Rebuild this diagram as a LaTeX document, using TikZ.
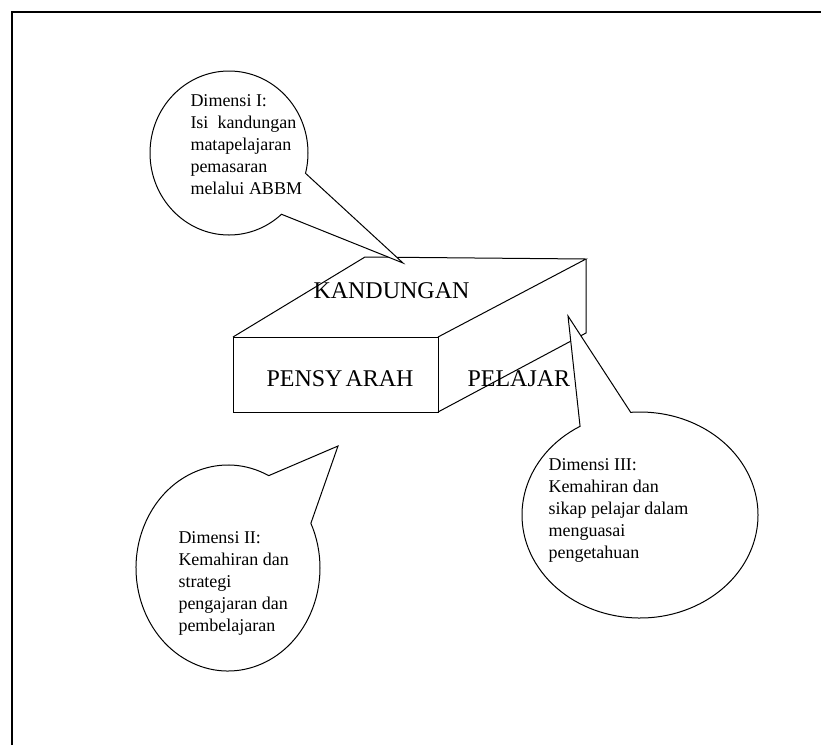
\documentclass[tikz,border=0pt]{standalone}
\usepackage{fontspec}
\setmainfont{Liberation Serif}
\usetikzlibrary{shapes.callouts,shapes.geometric}

\begin{document}
\begin{tikzpicture}[x=1pt,y=-1pt,line width=1pt,
  bubble/.style={ellipse callout, draw, fill=white, inner sep=0pt},
  dimtext/.style={anchor=north west, align=left, inner sep=0pt,
    font=\fontsize{18}{22}\selectfont},
  facetext/.style={anchor=base west, inner sep=0pt,
    font=\fontsize{24}{28}\selectfont}]
\useasboundingbox (0,0) rectangle (821,745);
% frame
\draw[line width=1.5pt] (12,745) -- (12,12) -- (821,12);
% box
\coordinate (fl) at (233,337);
\coordinate (fr) at (438,337);
\coordinate (frb) at (438,412);
\coordinate (flb) at (233,412);
\coordinate (bl) at (365,257);
\coordinate (br) at (586,259);
\coordinate (brb) at (586,333);
\draw (fl) -- (fr) -- (frb) -- (flb) -- cycle;
\draw (fl) -- (bl) -- (br) -- (fr);
\draw (br) -- (brb) -- (frb);
% callouts
\coordinate (tipI) at (403,263);
\coordinate (tipII) at (338,446);
\coordinate (tipIII) at (568,316);
\node[bubble, minimum width=158pt, minimum height=164pt,
  callout absolute pointer={(tipI)}, callout pointer arc=34] (bubI) at (229,153) {};
\node[bubble, minimum width=184pt, minimum height=206pt,
  callout absolute pointer={(tipII)}, callout pointer arc=38] (bubII) at (228,568) {};
\node[bubble, minimum width=236pt, minimum height=206pt,
  callout absolute pointer={(tipIII)}, callout pointer arc=26] (bubIII) at (640,515) {};
% labels
\node[facetext] (kand) at (313,298) {KANDUNGAN};
\node[facetext] (pens) at (266,386) {PENSY\hspace{3pt}ARAH};
\node[facetext] (pel) at (467,386) {PELAJAR};
\node[dimtext] (dimI) at (190,94) {Dimensi I:\\Isi\ \ kandungan\\matapelajaran\\pemasaran\\melalui ABBM};
\node[dimtext] (dimII) at (178,531) {Dimensi II:\\Kemahiran dan\\strategi\\pengajaran dan\\pembelajaran};
\node[dimtext] (dimIII) at (548,458) {Dimensi III:\\Kemahiran dan\\sikap pelajar dalam\\menguasai\\pengetahuan};
\end{tikzpicture}
\end{document}
